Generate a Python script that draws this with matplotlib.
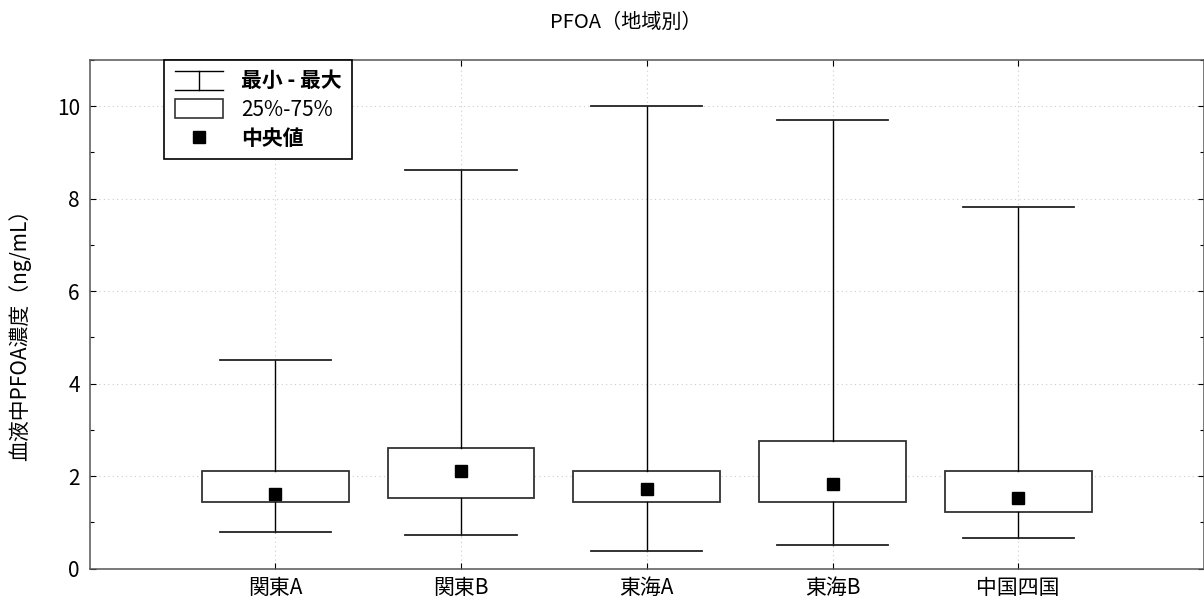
#!/usr/bin/env python3
"""PFOA blood concentration by region - box chart (min/max, 25-75%, median)"""

import matplotlib
matplotlib.use('Agg')
import matplotlib.pyplot as plt
from matplotlib.lines import Line2D
from matplotlib.patches import Patch
from matplotlib.legend_handler import HandlerBase
from matplotlib.ticker import MultipleLocator

plt.rcParams['font.family'] = ['Noto Sans CJK JP', 'DejaVu Sans']

# values
regions = ['関東A', '関東B', '東海A', '東海B', '中国四国']
minimum = [0.79, 0.73, 0.37, 0.50, 0.65]
q1 = [1.43, 1.53, 1.43, 1.43, 1.23]
median = [1.62, 2.11, 1.72, 1.82, 1.52]
q3 = [2.10, 2.60, 2.10, 2.76, 2.10]
maximum = [4.51, 8.61, 10.0, 9.71, 7.81]

legend_labels = ['最小 - 最大', '25%-75%', '中央値']


class WhiskerHandler(HandlerBase):
    """Legend symbol shaped like a min-max whisker (工)"""
    def create_artists(self, legend, orig_handle, xdescent, ydescent,
                       width, height, fontsize, trans):
        x0, x1 = -xdescent, -xdescent + width
        y0, y1 = -ydescent, -ydescent + height
        xm = (x0 + x1) / 2
        lines = [Line2D([x0, x1], [y1, y1]),
                 Line2D([x0, x1], [y0, y0]),
                 Line2D([xm, xm], [y0, y1])]
        for ln in lines:
            ln.set_color('black')
            ln.set_linewidth(1.0)
            ln.set_transform(trans)
        return lines


def main():
    fig = plt.figure(figsize=(12.04, 6.06), dpi=100)
    ax = fig.add_axes([89.5 / 1204, 1 - 568.5 / 606, 1 - 89.5 / 1204, (568.5 - 60) / 606])

    positions = list(range(len(regions)))
    stats = []
    for i, name in enumerate(regions):
        stats.append({'label': name, 'med': median[i], 'q1': q1[i], 'q3': q3[i],
                      'whislo': minimum[i], 'whishi': maximum[i], 'fliers': []})

    ax.bxp(stats, positions=positions, widths=0.79, capwidths=0.6,
           showfliers=False, patch_artist=True,
           boxprops=dict(facecolor='white', edgecolor='#333333', linewidth=1.3),
           whiskerprops=dict(color='black', linewidth=1.0),
           capprops=dict(color='#222222', linewidth=1.3),
           medianprops=dict(linestyle='none'), zorder=3)
    ax.plot(positions, median, linestyle='none', marker='s', color='black',
            markersize=8, zorder=4)

    ax.set_xlim(-1, 5)
    ax.set_ylim(0, 11)
    ax.set_xticks(positions)
    ax.set_xticklabels(regions, fontsize=15)
    ax.yaxis.set_major_locator(MultipleLocator(2))
    ax.yaxis.set_minor_locator(MultipleLocator(1))
    ax.tick_params(axis='y', which='major', direction='in', length=4.5, width=0.8,
                   labelsize=15, pad=7, right=True)
    ax.tick_params(axis='y', which='minor', direction='in', length=3, width=0.8, right=True)
    ax.tick_params(axis='x', which='major', direction='in', length=4.5, width=0.8,
                   pad=6, top=True)

    ax.grid(True, which='major', color='#cccccc', linestyle=(0, (1, 3)), linewidth=0.8, zorder=0)
    ax.set_axisbelow(True)
    for sp in ax.spines.values():
        sp.set_color('#555555')
        sp.set_linewidth(1.1)

    fig.text(626 / 1204, 1 - 22 / 606, 'PFOA（地域別）', ha='center', va='center', fontsize=14.5)
    fig.text(20 / 1204, 1 - 330 / 606, '血液中PFOA濃度（ng/mL）', rotation=90,
             ha='center', va='center', fontsize=15)

    handles = [Line2D([], [], color='black'),
               Patch(facecolor='white', edgecolor='#333333', linewidth=1.2),
               Line2D([], [], marker='s', color='black', linestyle='none', markersize=8)]
    leg = ax.legend(handles, legend_labels, loc='upper left', bbox_to_anchor=(0.067, 1.0),
                    borderaxespad=0, fancybox=False, framealpha=1, edgecolor='black',
                    fontsize=15, handlelength=2.3, handleheight=1.0, handletextpad=0.9,
                    labelspacing=0.35, borderpad=0.5,
                    handler_map={handles[0]: WhiskerHandler()})
    leg.get_frame().set_linewidth(1.2)
    leg.set_zorder(5)
    texts = leg.get_texts()
    texts[0].set_fontweight('bold')
    texts[2].set_fontweight('bold')

    fig.savefig('out.png', dpi=100)
    plt.close(fig)


if __name__ == '__main__':
    main()
